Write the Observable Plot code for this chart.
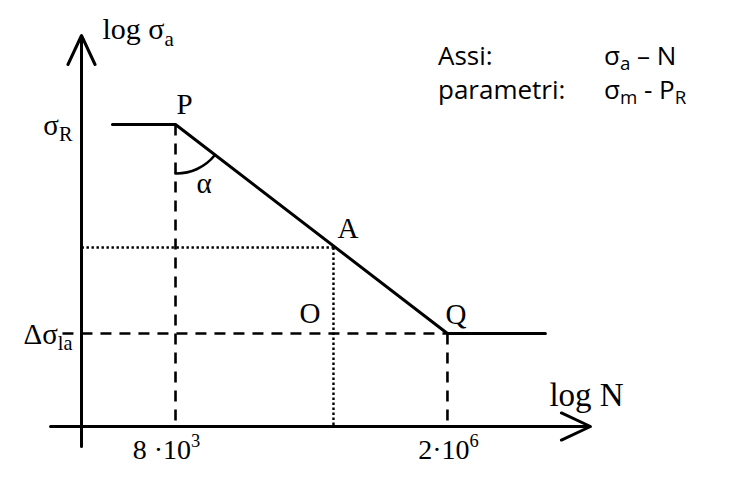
<!DOCTYPE html>
<html><head><meta charset="utf-8">
<script src="https://cdn.jsdelivr.net/npm/d3@7"></script>
<script src="https://cdn.jsdelivr.net/npm/@observablehq/plot@0.6"></script>
<style>
body{margin:0;background:#fff}
#wrap{position:relative;width:754px;height:486px}
#legend{position:absolute;left:438px;top:38px;font-family:"Open Sans",sans-serif;font-size:26px;line-height:34px;display:grid;grid-template-columns:166px auto;color:#000;white-space:nowrap}
#legend sub{font-size:0.72em;vertical-align:-0.25em;line-height:0}
</style></head><body><div id="wrap"><div id="legend"></div></div>
<script>
// ---- data (log N on x, log sigma_a on y, schematic units) ----
const curveLogN = [3.347, 3.903, 6.301, 7.165];   // Woehler curve: plateau, P, Q, endurance plateau
const curveLogS = [3.02, 3.02, 0.93, 0.93];
const pointP = [3.903, 3.02];   // N = 8e3
const pointA = [5.296, 1.79];
const pointQ = [6.301, 0.93];   // N = 2e6
const axisOrigin = [3.074, 0];
const yAxisExtent = [-0.2, 3.91];
const xAxisExtent = [2.801, 7.562];
const dashedStartLogN = 2.906;
const arcStart = [3.903, 2.53];
const arcEnd = [4.247, 2.71];
const xTickValues = [3.903, 6.301];
const xTickLabels = ["8 ·10^{3}", "2·10^{6}"];
const yTickValues = [3.02, 0.93];
const yTickLabels = ["σ_{R}", "Δσ_{la}"];
const legendKeys = ["Assi:", "parametri:"];
const legendValues = ["σ_{a} – N", "σ_{m} - P_{R}"];

// ---- derived tables ----
const curve = curveLogN.map((x, i) => ({x, y: curveLogS[i]}));
const axes = [
  {x1: axisOrigin[0], y1: yAxisExtent[0], x2: axisOrigin[0], y2: yAxisExtent[1]},
  {x1: xAxisExtent[0], y1: axisOrigin[1], x2: xAxisExtent[1], y2: axisOrigin[1]}
];
const dashed = [
  {x1: dashedStartLogN, y1: pointQ[1], x2: pointQ[0], y2: pointQ[1]},
  {x1: pointP[0], y1: pointP[1], x2: pointP[0], y2: axisOrigin[1]},
  {x1: pointQ[0], y1: pointQ[1], x2: pointQ[0], y2: axisOrigin[1]}
];
const dotted = [
  {x1: axisOrigin[0], y1: pointA[1], x2: pointA[0], y2: pointA[1]},
  {x1: pointA[0], y1: pointA[1], x2: pointA[0], y2: axisOrigin[1]}
];
const arc = [{x1: arcStart[0], y1: arcStart[1], x2: arcEnd[0], y2: arcEnd[1]}];
const xTicks = xTickValues.map((x, i) => ({x, y: axisOrigin[1], label: xTickLabels[i]}));
const yTicks = yTickValues.map((y, i) => ({x: axisOrigin[0], y, label: yTickLabels[i]}));

const serif = "'Liberation Serif','Times New Roman',serif";
const lbl = (pt, text, opts) => Plot.text([{x: pt[0], y: pt[1], t: text}],
  {x: "x", y: "y", text: "t", fontSize: 29, textAnchor: "start", lineAnchor: "bottom", fill: "black", ...opts});
const xTickOpts = {x: "x", y: "y", text: "label", fontSize: 28, textAnchor: "middle", lineAnchor: "bottom", dy: 32, fill: "black"};

const chart = Plot.plot({
  width: 754, height: 486, margin: 0,
  x: {type: "linear", domain: [2.3597, 9.0087], axis: null},
  y: {type: "linear", domain: [-0.6, 4.26], axis: null},
  style: {fontFamily: serif, background: "white", color: "black"},
  marks: [
    Plot.link(dashed, {x1: "x1", y1: "y1", x2: "x2", y2: "y2", stroke: "black", strokeWidth: 2.6, strokeDasharray: "11,8"}),
    Plot.link(dotted, {x1: "x1", y1: "y1", x2: "x2", y2: "y2", stroke: "black", strokeWidth: 2.4, strokeDasharray: "2.4,2.6"}),
    Plot.line(curve, {x: "x", y: "y", stroke: "black", strokeWidth: 3}),
    Plot.arrow(arc, {x1: "x1", y1: "y1", x2: "x2", y2: "y2", bend: -26, headLength: 0, stroke: "black", strokeWidth: 2.6}),
    Plot.arrow(axes, {x1: "x1", y1: "y1", x2: "x2", y2: "y2", stroke: "black", strokeWidth: 3, headLength: 16, headAngle: 50}),
    Plot.text(xTicks.slice(0, 1), {...xTickOpts, dx: -9}),
    Plot.text(xTicks.slice(1), {...xTickOpts, dx: 1}),
    Plot.text(yTicks, {x: "x", y: "y", text: "label", fontSize: 29, textAnchor: "end", lineAnchor: "bottom", dx: -9, dy: 10, fill: "black"}),
    lbl([axisOrigin[0], yAxisExtent[1]], "log σ_{a}", {fontSize: 30, dx: 21, dy: 3}),
    lbl([xAxisExtent[1], axisOrigin[1]], "log N", {fontSize: 33, dx: -41, dy: -21}),
    lbl(pointP, "P", {dx: 1, dy: -11}),
    lbl(pointA, "A", {dx: 4, dy: -10}),
    lbl([pointA[0], pointQ[1]], "O", {dx: -34, dy: -11}),
    lbl(pointQ, "Q", {dx: -2, dy: -10}),
    lbl(pointP, "α", {dx: 21, dy: 68})
  ]
});
document.getElementById("wrap").appendChild(chart);

// rich text: _{sub} and ^{sup}
for (const t of chart.querySelectorAll("text")) {
  const s = t.textContent;
  if (!/[_^]\{/.test(s)) continue;
  const fs = parseFloat(getComputedStyle(t).fontSize) || 26;
  t.textContent = "";
  let cur = 0;
  for (const tok of s.split(/([_^]\{[^}]*\})/)) {
    if (!tok) continue;
    const ts = document.createElementNS("http://www.w3.org/2000/svg", "tspan");
    let target = 0, txt = tok;
    if (tok.startsWith("_{")) { target = 0.24 * fs; txt = tok.slice(2, -1); ts.setAttribute("font-size", (0.7 * fs) + "px"); }
    else if (tok.startsWith("^{")) { target = -0.4 * fs; txt = tok.slice(2, -1); ts.setAttribute("font-size", (0.66 * fs) + "px"); }
    if (target !== cur) ts.setAttribute("dy", (target - cur) + "px");
    cur = target;
    ts.textContent = txt;
    t.appendChild(ts);
  }
}

// legend
const toHtml = s => s.replace(/_\{([^}]*)\}/g, "<sub>$1</sub>");
document.getElementById("legend").innerHTML = legendKeys.map((k, i) => `<div>${k}</div><div>${toHtml(legendValues[i])}</div>`).join("");
</script></body></html>
